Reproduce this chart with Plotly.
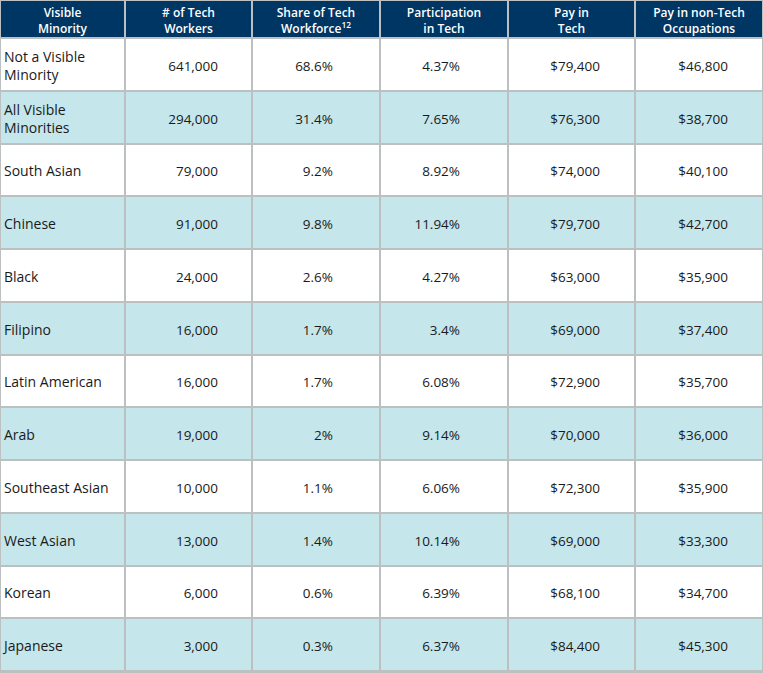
import plotly.graph_objects as go

# table content
header = ["Visible<br>Minority", "# of Tech<br>Workers", "Share of Tech<br>Workforce<sup>12</sup>",
          "Participation<br>in Tech", "Pay in<br>Tech", "Pay in non-Tech<br>Occupations"]
groups = ["Not a Visible<br>Minority", "All Visible<br>Minorities", "South Asian", "Chinese", "Black",
          "Filipino", "Latin American", "Arab", "Southeast Asian", "West Asian", "Korean", "Japanese"]
workers = [641000, 294000, 79000, 91000, 24000, 16000, 16000, 19000, 10000, 13000, 6000, 3000]
share = [68.6, 31.4, 9.2, 9.8, 2.6, 1.7, 1.7, 2, 1.1, 1.4, 0.6, 0.3]
participation = [4.37, 7.65, 8.92, 11.94, 4.27, 3.4, 6.08, 9.14, 6.06, 10.14, 6.39, 6.37]
pay_tech = [79400, 76300, 74000, 79700, 63000, 69000, 72900, 70000, 72300, 69000, 68100, 84400]
pay_nontech = [46800, 38700, 40100, 42700, 35900, 37400, 35700, 36000, 35900, 33300, 34700, 45300]

# layout of the grid (pixels)
W, H = 763, 673
col_edges = [0, 125, 252, 380, 508, 635, 763]
num_right = [218, 333, 460, 600, 728]   # numbers are right-aligned in each column
head_h, row_h = 38, 52.75
n = len(groups)
row_edges = [0, head_h] + [head_h + row_h * (i + 1) for i in range(n)]
col_mid = [(col_edges[i] + col_edges[i + 1]) / 2 for i in range(len(col_edges) - 1)]
# text sits a touch below the geometric middle
row_mid = [(row_edges[i] + row_edges[i + 1]) / 2 + 3 for i in range(len(row_edges) - 1)]

NAVY = '#003663'
LIGHT = '#c5e6eb'
GRID = '#bdc0c1'
FONT = 'Open Sans'
INK = '#1a1a1a'

# background: header = 2, alternating rows 0/1
z = [[2] * 6] + [[i % 2] * 6 for i in range(n)]

fig = go.Figure()
fig.add_trace(go.Heatmap(
    z=z, x=col_edges, y=row_edges,
    colorscale=[[0, 'white'], [0.5, LIGHT], [1, NAVY]], zmin=0, zmax=2,
    xgap=2, ygap=2, showscale=False, hoverinfo='skip'))

# header text
fig.add_trace(go.Scatter(
    x=col_mid, y=[row_mid[0]] * 6, mode='text', text=header,
    textfont=dict(family=FONT, size=12, color='white', weight=600),
    hoverinfo='skip'))

cells = [
    [f"{v:,}" for v in workers],
    [f"{v:g}%" for v in share],
    [f"{v:g}%" for v in participation],
    [f"${v:,}" for v in pay_tech],
    [f"${v:,}" for v in pay_nontech],
]

# first column, left aligned
fig.add_trace(go.Scatter(
    x=[col_edges[0] + 4] * n, y=row_mid[1:], mode='text', text=groups,
    textposition='middle right',
    textfont=dict(family=FONT, size=14, color=INK), hoverinfo='skip'))

for j, col in enumerate(cells):
    fig.add_trace(go.Scatter(
        x=[num_right[j]] * n, y=row_mid[1:], mode='text', text=col,
        textposition='middle left',
        textfont=dict(family=FONT, size=13.5, color=INK), hoverinfo='skip'))

fig.update_xaxes(range=[0, W], visible=False, fixedrange=True)
fig.update_yaxes(range=[H, 0], visible=False, fixedrange=True)
fig.update_layout(
    width=W, height=H, margin=dict(l=0, r=0, t=0, b=0),
    plot_bgcolor=GRID, paper_bgcolor='white', showlegend=False)

# drop the default page margin so the table sits in the corner
fig.write_html("out.html", config={'displayModeBar': False},
               post_script="document.body.style.margin='0';")
